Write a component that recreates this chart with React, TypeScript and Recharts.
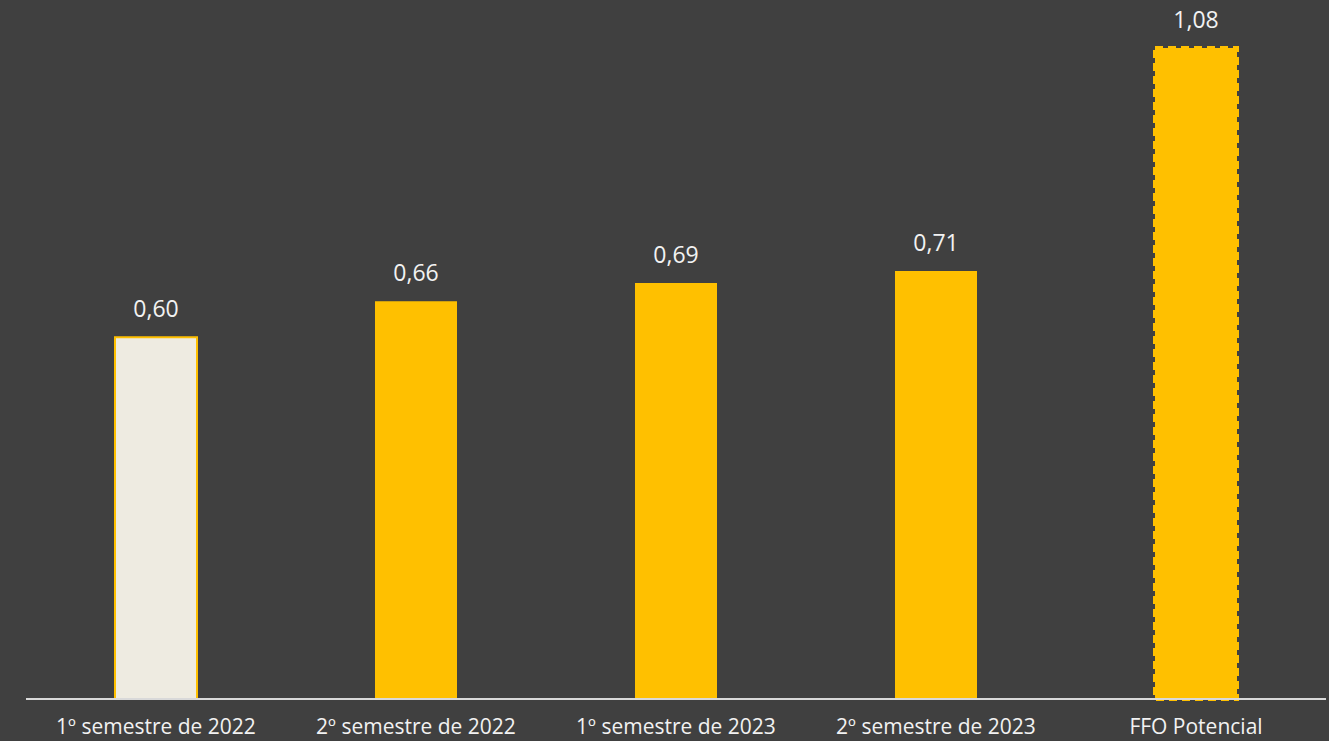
import React from "react";
import { BarChart, Bar, XAxis, YAxis, Cell, LabelList } from "recharts";

const categories = ["1º semestre de 2022", "2º semestre de 2022", "1º semestre de 2023", "2º semestre de 2023", "FFO Potencial"];
const values = [0.6, 0.66, 0.69, 0.71, 1.08];
const fills = ["#EEEBE1", "#FFC000", "#FFC000", "#FFC000", "#FFC000"];
const dashes = ["", "", "", "", "8 5"];
const strokeWidths = [2, 0, 0, 0, 4];

const data = categories.map((c, i) => ({ name: c, value: values[i] }));

export default function App() {
  return (
    <div style={{ position: "absolute", left: 0, top: 0, width: 1329, height: 741, background: "#404040", fontFamily: "'Open Sans', Carlito, Calibri, sans-serif" }}>
      <BarChart width={1329} height={741} data={data} margin={{ top: 48, right: 3, left: 26, bottom: 0 }} barCategoryGap={0}>
        <YAxis hide domain={[0, 1.08]} />
        <XAxis
          dataKey="name"
          height={42}
          axisLine={{ stroke: "#D9D9D9", strokeWidth: 2 }}
          tickLine={false}
          tick={{ fill: "#F2F2F2", fontSize: 21 }}
          tickMargin={14}
          interval={0}
        />
        <Bar dataKey="value" barSize={82} isAnimationActive={false}>
          {data.map((d, i) => (
            <Cell key={i} fill={fills[i]} stroke="#FFC000" strokeWidth={strokeWidths[i]} strokeDasharray={dashes[i] || undefined} />
          ))}
          <LabelList dataKey="value" position="top" offset={20} fill="#F2F2F2" fontSize={23} formatter={(v: number) => v.toFixed(2).replace(".", ",")} />
        </Bar>
      </BarChart>
    </div>
  );
}
